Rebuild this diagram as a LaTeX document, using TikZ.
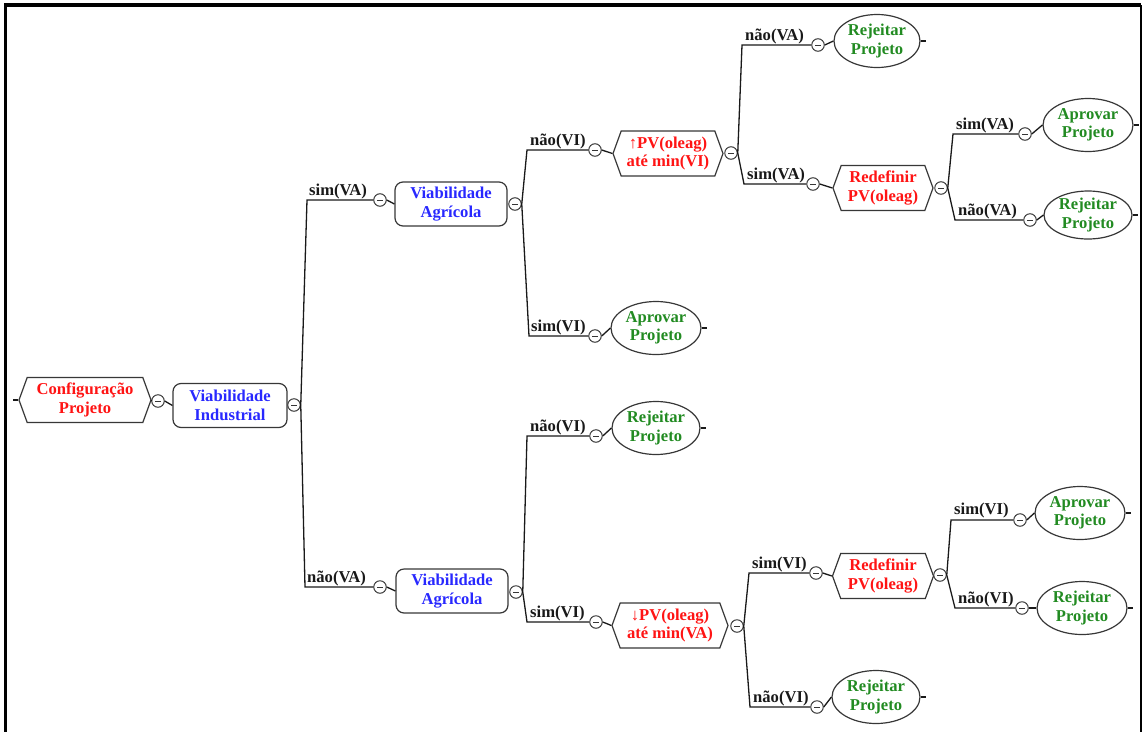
\documentclass[tikz,border=0pt]{standalone}
\usepackage{fontspec}
\setmainfont{Liberation Serif}
\usetikzlibrary{shapes.symbols,shapes.geometric}
\definecolor{nred}{RGB}{255,20,20}
\definecolor{nblue}{RGB}{40,40,255}
\definecolor{ngreen}{RGB}{34,139,34}
\definecolor{edgec}{RGB}{55,55,55}
\tikzset{
  basetxt/.style={font=\fontsize{16.6}{18.5}\selectfont\bfseries, align=center, inner sep=0pt},
  hexnode/.style={basetxt, draw=edgec, line width=1.2pt, fill=white, shape=signal, signal to=east and west, signal pointer angle=140, minimum height=45pt, text=nred},
  rectnode/.style={basetxt, draw=edgec, line width=1.2pt, rounded corners=8pt, minimum width=113pt, minimum height=44pt, text=nblue},
  ellnode/.style={basetxt, draw=edgec, line width=1.2pt, ellipse, minimum width=90pt, minimum height=53pt, text=ngreen},
  fold/.style={circle, draw=edgec, line width=1pt, fill=white, minimum size=12.5pt, inner sep=0pt,
    path picture={\draw[line width=1pt] ([xshift=-3pt]path picture bounding box.center) -- ([xshift=3pt]path picture bounding box.center);}},
  lab/.style={basetxt, anchor=base west, text=black!90},
  conn/.style={draw=black!90, line width=1.3pt},
}
\begin{document}
\begin{tikzpicture}[x=1pt,y=-1pt]
\useasboundingbox (0,0) rectangle (1142,731);
% frame
\draw[line width=3.2pt] (5.6,745) -- (5.6,5) -- (1141,5);
\draw[line width=1.6pt] (1141.2,5) -- (1141.2,745);

% nodes
\node[hexnode, minimum width=132pt] (R) at (85,400) {Configuração\\Projeto};
\node[fold] (cR) at (158,401) {};
\node[rectnode, minimum width=114pt] (VI) at (230,405.5) {Viabilidade\\Industrial};
\node[fold] (cVI) at (294,405) {};

\node[lab] (L1) at (309,195) {sim(VA)};
\node[fold] (c1) at (380,200) {};
\node[rectnode, minimum width=112pt] (A1) at (451,204) {Viabilidade\\Agrícola};
\node[fold] (cA1) at (515,204) {};

\node[lab] (L2) at (307,582) {não(VA)};
\node[fold] (c2) at (380,587) {};
\node[rectnode, minimum width=112pt] (A2) at (452,591) {Viabilidade\\Agrícola};
\node[fold] (cA2) at (516,592) {};

\node[lab] (L3) at (530,145) {não(VI)};
\node[fold] (c3) at (595,150) {};
\node[hexnode, minimum width=110pt] (H1) at (668,153.5) {↑PV(oleag)\\até min(VI)};
\node[fold] (cH1) at (731,153) {};

\node[lab] (L4) at (531,331) {sim(VI)};
\node[fold] (c4) at (595,336) {};
\node[ellnode] (E1) at (656,328) {Aprovar\\Projeto};

\node[lab] (L5) at (745,40) {não(VA)};
\node[fold] (c5) at (818,45) {};
\node[ellnode, minimum width=86pt] (E2) at (877,41) {Rejeitar\\Projeto};

\node[lab] (L6) at (747,179) {sim(VA)};
\node[fold] (c6) at (813,184) {};
\node[hexnode, minimum width=100pt] (H2) at (883,188) {Redefinir\\PV(oleag)};
\node[fold] (cH2) at (941,188) {};

\node[lab] (L7) at (956,129) {sim(VA)};
\node[fold] (c7) at (1025,134) {};
\node[ellnode] (E3) at (1088,125) {Aprovar\\Projeto};

\node[lab] (L8) at (958,215) {não(VA)};
\node[fold] (c8) at (1030,220) {};
\node[ellnode, minimum width=88pt, minimum height=48pt] (E4) at (1088,215) {Rejeitar\\Projeto};

\node[lab] (L9) at (530,431) {não(VI)};
\node[fold] (c9) at (596,436) {};
\node[ellnode, minimum width=88pt] (E5) at (656,428) {Rejeitar\\Projeto};

\node[lab] (L10) at (530,617) {sim(VI)};
\node[fold] (c10) at (596,622) {};
\node[hexnode, minimum width=116pt] (H3) at (670,625.5) {↓PV(oleag)\\até min(VA)};
\node[fold] (cH3) at (737,626) {};

\node[lab] (L11) at (752,568) {sim(VI)};
\node[fold] (c11) at (816,573) {};
\node[hexnode, minimum width=101pt] (H4) at (883,576) {Redefinir\\PV(oleag)};
\node[fold] (cH4) at (940,575) {};

\node[lab] (L12) at (753,702) {não(VI)};
\node[fold] (c12) at (817,707) {};
\node[ellnode, minimum width=88pt] (E6) at (876,697) {Rejeitar\\Projeto};

\node[lab] (L13) at (954,514) {sim(VI)};
\node[fold] (c13) at (1020,520) {};
\node[ellnode] (E7) at (1080,513) {Aprovar\\Projeto};

\node[lab] (L14) at (958,603) {não(VI)};
\node[fold] (c14) at (1022,608) {};
\node[ellnode] (E8) at (1082,608) {Rejeitar\\Projeto};

% junction coordinates
\coordinate (Rs) at (13,400);
\coordinate (j1) at (307,200);
\coordinate (j2) at (305,587);
\coordinate (j3) at (527,150);
\coordinate (j4) at (529,336);
\coordinate (j5) at (742,45);
\coordinate (j6) at (744,184);
\coordinate (j7) at (953,134);
\coordinate (j8) at (955,220);
\coordinate (j9) at (527,436);
\coordinate (j10) at (527,622);
\coordinate (j11) at (749,573);
\coordinate (j12) at (750,707);
\coordinate (j13) at (951,520);
\coordinate (j14) at (955,608);

% connectors
\begin{scope}[conn]
\draw (R.west) -- (Rs);
\draw (R.east) -- (cR.west);
\draw (cR.east) -- (VI.west);
\draw (cVI.east) -- (j1) -- (c1.west);
\draw (c1.east) -- (A1.west);
\draw (cVI.east) -- (j2) -- (c2.west);
\draw (c2.east) -- (A2.west);
\draw (cA1.east) -- (j3) -- (c3.west);
\draw (c3.east) -- (H1.west);
\draw (cA1.east) -- (j4) -- (c4.west);
\draw (c4.east) -- (E1.west);
\draw (cH1.east) -- (j5) -- (c5.west);
\draw (c5.east) -- (E2.west);
\draw (cH1.east) -- (j6) -- (c6.west);
\draw (c6.east) -- (H2.west);
\draw (cH2.east) -- (j7) -- (c7.west);
\draw (c7.east) -- (E3.west);
\draw (cH2.east) -- (j8) -- (c8.west);
\draw (c8.east) -- (E4.west);
\draw (cA2.east) -- (j9) -- (c9.west);
\draw (c9.east) -- (E5.west);
\draw (cA2.east) -- (j10) -- (c10.west);
\draw (c10.east) -- (H3.west);
\draw (cH3.east) -- (j11) -- (c11.west);
\draw (c11.east) -- (H4.west);
\draw (cH3.east) -- (j12) -- (c12.west);
\draw (c12.east) -- (E6.west);
\draw (cH4.east) -- (j13) -- (c13.west);
\draw (c13.east) -- (E7.west);
\draw (cH4.east) -- (j14) -- (c14.west);
\draw (c14.east) -- (E8.west);
% leaf stubs
\foreach \e in {E1,E2,E3,E4,E5,E6,E7,E8}{
  \coordinate (\e s) at ([xshift=5pt]\e.east);
  \draw (\e.east) -- (\e s);
}
\end{scope}
\end{tikzpicture}
\end{document}
